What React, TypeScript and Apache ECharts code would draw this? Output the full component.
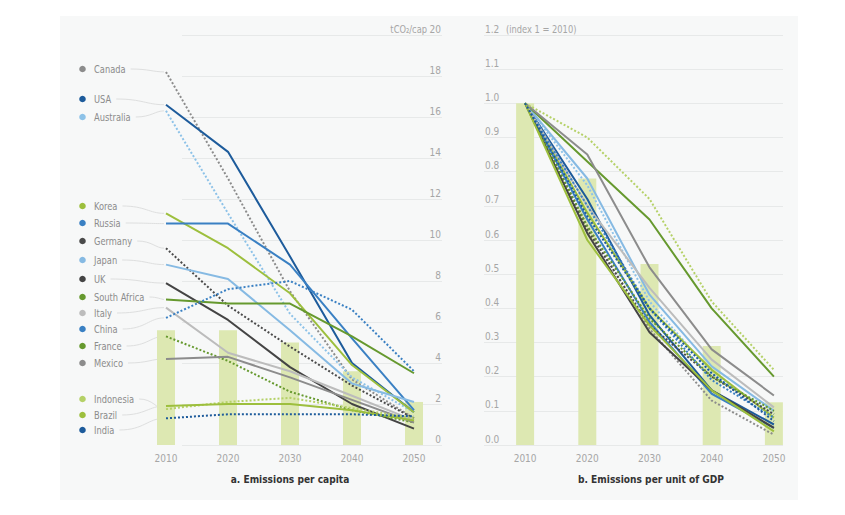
import React, { useEffect, useRef } from "react";
import * as echarts from "echarts";

// ---------- data ----------
const years = ["2010", "2020", "2030", "2040", "2050"];
const countries = [
  "Canada", "USA", "Australia", "Korea", "Russia", "Germany", "Japan", "UK",
  "South Africa", "Italy", "China", "France", "Mexico", "Indonesia", "Brazil", "India",
];

// a. emissions per capita (tCO2/cap)
const capCanada = [18.2, 13.0, 7.5, 3.2, 1.3];
const capUSA = [16.6, 14.3, 9.2, 4.0, 1.6];
const capAustralia = [16.3, 11.3, 6.4, 3.3, 1.6];
const capKorea = [11.3, 9.6, 7.4, 3.9, 1.6];
const capRussia = [10.8, 10.8, 8.8, 5.2, 1.7];
const capGermany = [9.6, 6.8, 4.8, 2.9, 1.3];
const capJapan = [8.8, 8.1, 5.6, 3.0, 2.1];
const capUK = [7.9, 6.1, 3.8, 2.0, 0.8];
const capSouthAfrica = [7.1, 6.9, 6.9, 5.3, 3.5];
const capItaly = [6.7, 4.5, 3.6, 2.4, 1.2];
const capChina = [6.2, 7.6, 8.0, 6.6, 3.6];
const capFrance = [5.3, 4.1, 2.6, 1.7, 1.1];
const capMexico = [4.2, 4.3, 3.3, 2.2, 1.1];
const capIndonesia = [1.75, 2.1, 2.3, 1.8, 1.3];
const capBrazil = [1.9, 2.0, 2.0, 1.7, 1.2];
const capIndia = [1.3, 1.5, 1.5, 1.5, 1.4];
const capWorldBars = [5.6, 5.6, 5.0, 3.6, 2.1];

// b. emissions per unit of GDP (index 1 = 2010)
const gdpCanada = [1, 0.64, 0.34, 0.13, 0.03];
const gdpUSA = [1, 0.72, 0.38, 0.16, 0.06];
const gdpAustralia = [1, 0.76, 0.42, 0.21, 0.09];
const gdpKorea = [1, 0.68, 0.4, 0.22, 0.08];
const gdpRussia = [1, 0.66, 0.36, 0.15, 0.05];
const gdpGermany = [1, 0.63, 0.35, 0.2, 0.09];
const gdpJapan = [1, 0.78, 0.44, 0.23, 0.1];
const gdpUK = [1, 0.62, 0.33, 0.16, 0.05];
const gdpSouthAfrica = [1, 0.83, 0.66, 0.4, 0.2];
const gdpItaly = [1, 0.7, 0.46, 0.25, 0.11];
const gdpChina = [1, 0.7, 0.4, 0.19, 0.08];
const gdpFrance = [1, 0.64, 0.37, 0.2, 0.1];
const gdpMexico = [1, 0.85, 0.52, 0.28, 0.145];
const gdpIndonesia = [1, 0.9, 0.72, 0.42, 0.22];
const gdpBrazil = [1, 0.6, 0.35, 0.16, 0.04];
const gdpIndia = [1, 0.67, 0.4, 0.21, 0.07];
const gdpWorldBars = [1.0, 0.78, 0.53, 0.29, 0.125];

const perCapita = [
  capCanada, capUSA, capAustralia, capKorea, capRussia, capGermany, capJapan, capUK,
  capSouthAfrica, capItaly, capChina, capFrance, capMexico, capIndonesia, capBrazil, capIndia,
];
const perGdp = [
  gdpCanada, gdpUSA, gdpAustralia, gdpKorea, gdpRussia, gdpGermany, gdpJapan, gdpUK,
  gdpSouthAfrica, gdpItaly, gdpChina, gdpFrance, gdpMexico, gdpIndonesia, gdpBrazil, gdpIndia,
];
const dottedFlags = [
  true, false, true, false, false, true, false, false,
  false, false, true, true, false, true, false, true,
];

// ---------- styles ----------
const COLORS = [
  "#8c8c8c", "#1d5b9b", "#8dc2e8", "#9dbf3d", "#3a80c3", "#4a4a4a", "#86bae3", "#444444",
  "#66992e", "#bcbcbc", "#3a80c3", "#66992e", "#8c8c8c", "#b5d167", "#9dbf3d", "#1d5b9b",
];
const LABEL_Y = [69, 99, 117, 206, 223, 241, 260, 279, 297, 313, 329, 346, 363, 399, 415, 430];
const FONT = "'Liberation Sans Narrow', 'DejaVu Sans Condensed', 'Roboto', sans-serif";
const BAR_COLOR = "#dde8b2";
const GRID_COLOR = "#e7e9e9";
const TICK_COLOR = "#a6a6a6";
const TEXT_SCALE = 0.84;

function measure(text: string, size: number): number {
  const c = document.createElement("canvas").getContext("2d");
  if (!c) return text.length * size * 0.45;
  c.font = `${size}px ${FONT}`;
  return c.measureText(text).width;
}

export default function App() {
  const ref = useRef<HTMLDivElement>(null);

  useEffect(() => {
    if (!ref.current) return;
    const chart = echarts.init(ref.current, undefined, { renderer: "svg" });

    const catAxis = (gridIndex: number) => ({
      gridIndex,
      type: "category",
      data: years,
      axisLine: { show: false },
      axisTick: { show: false },
      axisLabel: { color: TICK_COLOR, fontSize: 10, margin: 8, fontFamily: FONT },
      splitLine: { show: false },
    });
    const hiddenX = (gridIndex: number) => ({ gridIndex, type: "value", show: false, min: 0, max: 1 });

    const series: any[] = [];
    series.push({
      type: "bar", xAxisIndex: 0, yAxisIndex: 0, data: capWorldBars, barWidth: 18,
      itemStyle: { color: BAR_COLOR }, z: 1, silent: true,
    });
    countries.forEach((name, i) => {
      series.push({
        type: "line", name, xAxisIndex: 0, yAxisIndex: 0, data: perCapita[i], symbol: "none",
        lineStyle: { color: COLORS[i], width: 2, type: dottedFlags[i] ? [2, 2] : "solid" },
        z: 3, silent: true,
      });
    });
    series.push({
      type: "bar", xAxisIndex: 2, yAxisIndex: 2, data: gdpWorldBars, barWidth: 18,
      itemStyle: { color: BAR_COLOR }, z: 1, silent: true,
    });
    countries.forEach((name, i) => {
      series.push({
        type: "line", name: name + " GDP", xAxisIndex: 2, yAxisIndex: 2, data: perGdp[i], symbol: "none",
        lineStyle: { color: COLORS[i], width: 2, type: dottedFlags[i] ? [2, 2] : "solid" },
        z: 3, silent: true,
      });
    });

    chart.setOption({
      animation: false,
      textStyle: { fontFamily: FONT },
      grid: [
        { left: 135, top: 35, width: 310, height: 410 },
        { left: 182, top: 35, width: 260, height: 410 },
        { left: 494, top: 35, width: 311, height: 410 },
        { left: 484, top: 35, width: 299, height: 410 },
      ],
      xAxis: [catAxis(0), hiddenX(1), catAxis(2), hiddenX(3)],
      yAxis: [
        { gridIndex: 0, type: "value", min: 0, max: 20, show: false },
        {
          gridIndex: 1, type: "value", min: 0, max: 20, interval: 2, position: "right",
          axisLine: { show: false }, axisTick: { show: false },
          splitLine: { show: true, lineStyle: { color: GRID_COLOR, width: 1 } },
          axisLabel: {
            inside: true, margin: 1, verticalAlign: "bottom", padding: [0, 0, 1, 0],
            color: TICK_COLOR, fontSize: 10, fontFamily: FONT,
          },
        },
        { gridIndex: 2, type: "value", min: 0, max: 1.2, show: false },
        {
          gridIndex: 3, type: "value", min: 0, max: 1.2, interval: 0.1, position: "left",
          axisLine: { show: false }, axisTick: { show: false },
          splitLine: { show: true, lineStyle: { color: GRID_COLOR, width: 1 } },
          axisLabel: {
            inside: true, margin: 1, verticalAlign: "bottom", padding: [0, 0, 1, 0],
            color: TICK_COLOR, fontSize: 10, fontFamily: FONT,
            formatter: (v: number) => v.toFixed(1),
          },
        },
      ],
      series,
    });

    // legend labels with leader lines to each series' 2010 start point
    const graphics: any[] = [];
    countries.forEach((name, i) => {
      const pt = chart.convertToPixel({ seriesIndex: 1 + i }, [0, perCapita[i][0]]) as number[];
      const yl = LABEL_Y[i];
      const xs = pt[0] - 2;
      const ys = pt[1];
      const xe = 94 + measure(name, 11) * TEXT_SCALE + 5;
      const mid = xe + (xs - xe) * 0.55;
      graphics.push({
        type: "bezierCurve", silent: true, z: 0,
        shape: { x1: xe, y1: yl, cpx1: mid, cpy1: yl, cpx2: mid + 4, cpy2: ys, x2: xs, y2: ys },
        style: { stroke: "#dedfdf", lineWidth: 1, fill: null },
      });
      graphics.push({
        type: "circle", silent: true, shape: { cx: 82.5, cy: yl, r: 3.3 },
        style: { fill: COLORS[i] },
      });
      graphics.push({
        type: "text", silent: true, x: 94, y: yl, scaleX: TEXT_SCALE,
        style: { text: name, fill: "#8c8c8c", fontSize: 11, fontFamily: FONT, verticalAlign: "middle", align: "left" },
      });
    });
    graphics.push({
      type: "text", silent: true, x: 427, y: 29, scaleX: TEXT_SCALE,
      style: { text: "tCO₂/cap", fill: TICK_COLOR, fontSize: 11, fontFamily: FONT, align: "right", verticalAlign: "middle" },
    });
    graphics.push({
      type: "text", silent: true, x: 506, y: 29, scaleX: TEXT_SCALE,
      style: { text: "(index 1 = 2010)", fill: TICK_COLOR, fontSize: 11, fontFamily: FONT, align: "left", verticalAlign: "middle" },
    });
    graphics.push({
      type: "text", silent: true, x: 290, y: 479, scaleX: 0.92,
      style: { text: "a. Emissions per capita", fill: "#333333", fontSize: 11, fontWeight: "bold", fontFamily: FONT, align: "center", verticalAlign: "middle" },
    });
    graphics.push({
      type: "text", silent: true, x: 651, y: 479, scaleX: 0.92,
      style: { text: "b. Emissions per unit of GDP", fill: "#333333", fontSize: 11, fontWeight: "bold", fontFamily: FONT, align: "center", verticalAlign: "middle" },
    });
    chart.setOption({ graphic: graphics });

    return () => chart.dispose();
  }, []);

  return (
    <div style={{ position: "fixed", left: 0, top: 0, width: 845, height: 515, background: "#ffffff" }}>
      <div style={{ position: "absolute", left: 60, top: 16, width: 738, height: 484, background: "#f7f8f8" }} />
      <div ref={ref} style={{ position: "absolute", left: 0, top: 0, width: 845, height: 515 }} />
    </div>
  );
}
